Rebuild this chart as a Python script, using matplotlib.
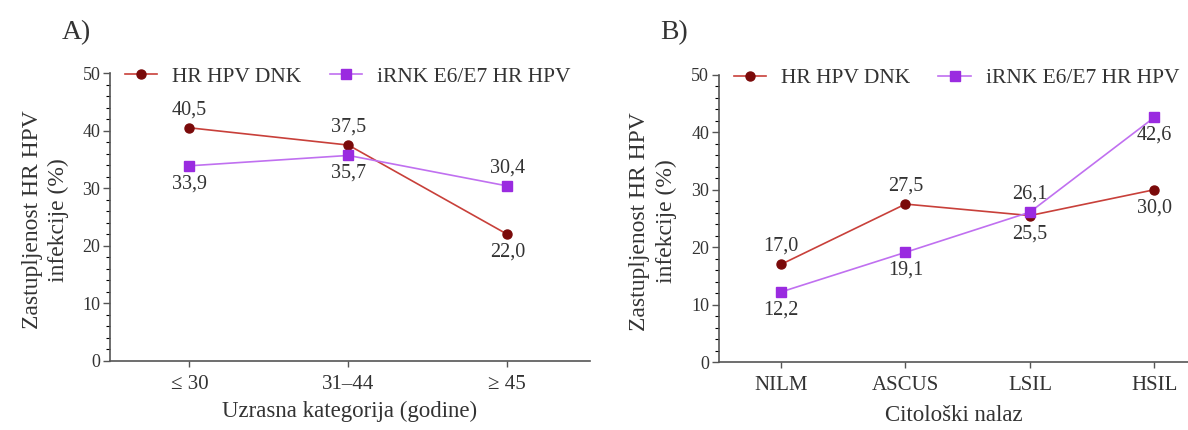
import matplotlib
matplotlib.use("Agg")
import matplotlib.pyplot as plt
from matplotlib.ticker import MultipleLocator

plt.rcParams['font.family'] = ['Liberation Serif', 'DejaVu Serif']

# Data
age_cats = ["≤ 30", "31–44", "≥ 45"]
age_dnk = [40.5, 37.5, 22.0]
age_rnk = [33.9, 35.7, 30.4]

cyto_cats = ["NILM", "ASCUS", "LSIL", "HSIL"]
cyto_dnk = [17.0, 27.5, 25.5, 30.0]
cyto_rnk = [12.2, 19.1, 26.1, 42.6]

# label placement: +1 above, -1 below
age_dnk_pos = [1, 1, -1]
age_rnk_pos = [-1, -1, 1]
cyto_dnk_pos = [1, 1, -1, -1]
cyto_rnk_pos = [-1, -1, 1, -1]

series_names = ["HR HPV DNK", "iRNK E6/E7 HR HPV"]

dnk_line = "#c8403a"
dnk_mark = "#7a0a0a"
rnk_line = "#c070f0"
rnk_mark = "#9a2be0"
txt = "#333333"

fig = plt.figure(figsize=(11.88, 4.30), dpi=100)
axA = fig.add_axes([0.0926, 0.1605, 0.404, 0.6695])
axB = fig.add_axes([0.605, 0.158, 0.395, 0.668])

def fmt(v):
    return f"{v:.1f}".replace(".", ",")

def draw(ax, cats, dnk, rnk, dpos, rpos, xmax, xlabel, ylab_x, xlab_y):
    x = list(range(len(cats)))
    ax.plot(x, dnk, color=dnk_line, lw=1.2, marker='o', ms=6.5,
            mfc=dnk_mark, mec=dnk_mark, label=series_names[0], zorder=3)
    ax.plot(x, rnk, color=rnk_line, lw=1.2, marker='s', ms=6.5,
            mfc=rnk_mark, mec=rnk_mark, label=series_names[1], zorder=3)
    for xi, v, p in zip(x, dnk, dpos):
        ax.annotate(fmt(v), (xi, v), xytext=(0, 13 * p), textcoords='offset points',
                    ha='center', va='center', fontsize=14.5, color=txt)
    for xi, v, p in zip(x, rnk, rpos):
        ax.annotate(fmt(v), (xi, v), xytext=(0, 13 * p), textcoords='offset points',
                    ha='center', va='center', fontsize=14.5, color=txt)
    ax.set_xlim(-0.5, xmax)
    ax.set_ylim(0, 50)
    ax.set_xticks(x)
    ax.set_xticklabels(cats)
    ax.set_yticks([0, 10, 20, 30, 40, 50])
    ax.yaxis.set_minor_locator(MultipleLocator(2))
    for s in ['top', 'right']:
        ax.spines[s].set_visible(False)
    for s in ['left', 'bottom']:
        ax.spines[s].set_color('#555555')
        ax.spines[s].set_linewidth(1.2)
    ax.tick_params(axis='both', colors='#555555', labelcolor=txt)
    ax.tick_params(axis='y', which='major', length=5, width=1, pad=2, labelsize=13)
    ax.tick_params(axis='y', which='minor', length=3, width=0.8)
    ax.tick_params(axis='x', which='major', length=4, width=1, pad=6, labelsize=15)
    ax.set_xlabel(xlabel, fontsize=16.5, color=txt)
    ax.xaxis.set_label_coords(0.5, xlab_y)
    ax.set_ylabel("Zastupljenost HR HPV\ninfekcije (%)", fontsize=17, color=txt,
                  linespacing=1.3)
    ax.yaxis.set_label_coords(ylab_x, 0.49)
    ax.legend(loc='upper left', bbox_to_anchor=(0.0, 1.075), ncol=2, frameon=False,
              fontsize=15.5, handlelength=1.5, columnspacing=1.3, handletextpad=0.7,
              labelcolor=txt, borderaxespad=0.3)

draw(axA, age_cats, age_dnk, age_rnk, age_dnk_pos, age_rnk_pos, 2.52,
     "Uzrasna kategorija (godine)", -0.085, -0.14)
draw(axB, cyto_cats, cyto_dnk, cyto_rnk, cyto_dnk_pos, cyto_rnk_pos, 3.27,
     "Citološki nalaz", -0.09, -0.15)

fig.text(0.052, 0.925, "A)", fontsize=20, color=txt, va='center')
fig.text(0.556, 0.925, "B)", fontsize=20, color=txt, va='center')

fig.savefig("out.png", dpi=100)
